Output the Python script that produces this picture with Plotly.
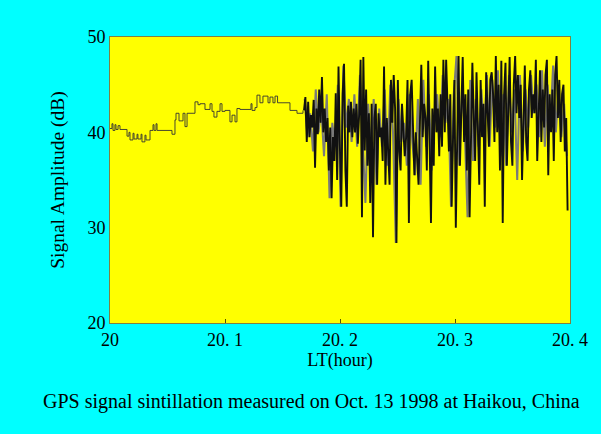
import plotly.graph_objects as go

# quiet part before the scintillation starts (LT hour, dB), step-like record
quiet_t = [20.0000, 20.0017, 20.0026, 20.0043, 20.0052, 20.0070, 20.0087, 20.0148,
           20.0165, 20.0174, 20.0200, 20.0209, 20.0235, 20.0243, 20.0270, 20.0278,
           20.0304, 20.0313, 20.0348, 20.0374, 20.0383, 20.0400, 20.0409, 20.0522,
           20.0539, 20.0565, 20.0574, 20.0600, 20.0635, 20.0652, 20.0670, 20.0722,
           20.0739, 20.0765, 20.0783, 20.0826, 20.0870, 20.0887, 20.0904, 20.0930,
           20.0957, 20.0974, 20.1000, 20.1043, 20.1061, 20.1087, 20.1104, 20.1130,
           20.1200, 20.1226, 20.1235, 20.1261, 20.1278, 20.1304, 20.1330, 20.1374,
           20.1391, 20.1417, 20.1435, 20.1457, 20.1504, 20.1548, 20.1565, 20.1626,
           20.1678]
quiet_v = [40.4, 40.9, 40.2, 40.8, 40.3, 40.7, 40.3, 39.6,
           40.0, 39.2, 39.9, 39.3, 39.8, 39.3, 39.8, 39.0,
           39.7, 39.2, 40.2, 40.8, 40.2, 40.9, 40.2, 40.2,
           39.8, 41.3, 42.0, 41.2, 42.0, 40.6, 42.0, 42.0,
           43.2, 42.9, 43.0, 42.4, 43.0, 42.2, 41.6, 42.2,
           43.0, 42.2, 42.3, 41.1, 41.8, 41.1, 42.5, 42.4,
           42.4, 43.0, 42.3, 42.6, 43.9, 43.1, 43.8, 43.1,
           43.7, 43.1, 43.8, 43.1, 43.1, 43.1, 42.3, 42.0,
           42.3]

# scintillation part, one sample every SCINT_DT hours from SCINT_T0
SCINT_T0 = 20.1687
SCINT_DT = 0.0012
scint_v = [
    42.3, 43.7, 39.0, 43.2, 39.5, 41.8, 40.5, 43.4, 36.3, 42.5, 39.8, 44.5,
    41.0, 45.8, 40.0, 42.5, 39.0, 41.5, 36.0, 40.5, 33.1, 39.5, 37.0, 44.1,
    35.0, 46.9, 38.5, 32.2, 44.0, 47.2, 36.0, 32.2, 42.8, 40.0, 43.2, 39.5,
    42.5, 40.0, 43.0, 38.8, 42.0, 47.6, 31.1, 47.9, 38.1, 44.5, 36.5, 42.0,
    32.6, 43.0, 29.0, 41.5, 43.0, 34.5, 42.0, 39.5, 40.5, 37.0, 46.9, 34.5,
    41.5, 37.0, 34.5, 45.5, 41.0, 46.0, 42.5, 28.4, 45.5, 38.0, 36.0, 43.0,
    40.0, 37.5, 39.5, 45.5, 30.5, 44.0, 45.5, 40.0, 35.5, 40.0, 37.5, 34.5,
    41.0, 47.1, 39.5, 43.0, 41.5, 36.0, 47.5, 38.0, 30.5, 42.5, 36.5, 46.9,
    40.0, 42.5, 37.5, 44.0, 38.5, 47.6, 40.0, 47.6, 42.5, 38.0, 44.0, 32.2,
    39.5, 45.5, 30.0, 42.0, 48.0, 36.5, 43.5, 47.9, 39.0, 44.0, 36.0, 44.5,
    31.1, 41.0, 47.3, 41.5, 37.0, 46.3, 39.0, 34.5, 45.5, 39.5, 43.0, 32.2,
    46.3, 42.5, 38.5, 45.5, 46.3, 44.0, 39.0, 48.0, 40.0, 45.0, 36.0, 47.5,
    30.5, 44.0, 47.3, 36.5, 43.0, 47.9, 39.0, 36.5, 45.0, 48.0, 42.0, 46.0,
    41.5, 45.0, 35.0, 42.0, 47.0, 39.0, 37.0, 44.5, 46.5, 41.5, 44.0, 42.0,
    47.6, 37.0, 43.5, 46.5, 39.0, 44.5, 40.5, 46.0, 47.6, 35.5, 44.0, 40.0,
    44.5, 37.0, 46.0, 48.0, 41.5, 45.5, 39.0, 44.0, 45.0, 38.0, 41.5, 31.8,
]
scint_t = [SCINT_T0 + i * SCINT_DT for i in range(len(scint_v))]

# second (grey) channel, half the sampling rate
GREY_T0 = 20.1693
GREY_DT = 0.0024
grey_v = [
    43.5, 39.5, 42.0, 38.0, 44.5, 40.0, 42.5, 37.5, 44.0, 33.1, 41.0, 38.5,
    45.0, 32.2, 47.0, 40.5, 43.5, 39.0, 44.0, 38.5, 46.0, 39.5, 32.6, 43.0,
    38.0, 43.5, 34.5, 42.5, 38.5, 44.5, 36.5, 45.0, 40.0, 28.4, 43.5, 39.0,
    41.0, 36.5, 44.0, 39.0, 35.5, 43.5, 34.5, 45.5, 38.5, 44.0, 36.0, 42.0,
    44.0, 39.5, 46.0, 41.0, 43.5, 32.2, 44.0, 48.0, 36.5, 45.0, 40.0, 31.1,
    45.5, 37.0, 43.5, 38.5, 44.5, 40.0, 46.0, 38.5, 45.5, 40.5, 46.5, 37.5,
    44.0, 36.5, 46.0, 40.0, 44.5, 35.0, 46.0, 38.0, 44.5, 40.5, 46.0, 42.0,
    45.0, 39.5, 46.5, 38.5, 45.0, 41.0, 47.0, 40.0, 44.5, 39.5, 43.0, 37.5,
]
grey_t = [GREY_T0 + i * GREY_DT for i in range(len(grey_v))]

x_tickvals = [20.0, 20.1, 20.2, 20.3, 20.4]
x_ticktext = ["20", "20. 1", "20. 2", "20. 3", "20. 4"]
y_tickvals = [20, 30, 40, 50]

serif = "Liberation Serif, Times New Roman, serif"

fig = go.Figure()
fig.add_trace(
    go.Scatter(
        x=quiet_t,
        y=quiet_v,
        mode="lines",
        line={"color": "#333333", "width": 0.9, "shape": "hv"},
        showlegend=False,
    )
)
fig.add_trace(
    go.Scatter(
        x=grey_t,
        y=grey_v,
        mode="lines",
        line={"color": "#7a7a7a", "width": 2},
        showlegend=False,
    )
)
fig.add_trace(
    go.Scatter(
        x=scint_t,
        y=scint_v,
        mode="lines",
        line={"color": "#111111", "width": 1.9},
        showlegend=False,
    )
)

fig.update_layout(
    width=601,
    height=434,
    margin={"l": 110, "r": 31, "t": 37, "b": 111},
    paper_bgcolor="#00FFFF",
    plot_bgcolor="#FFFF00",
    font={"family": serif, "color": "black"},
    annotations=[
        {
            "text": "GPS signal sintillation measured on Oct. 13 1998 at Haikou, China",
            "xref": "paper",
            "yref": "paper",
            "x": 0.437,
            "y": -0.275,
            "xanchor": "center",
            "yanchor": "middle",
            "showarrow": False,
            "font": {"size": 20, "family": serif},
        }
    ],
)
fig.update_xaxes(
    range=[20.0, 20.4],
    tickvals=x_tickvals,
    ticktext=x_ticktext,
    ticks="inside",
    ticklen=4,
    tickcolor="#555500",
    tickfont={"size": 18},
    showgrid=False,
    zeroline=False,
    showline=True,
    mirror=True,
    linecolor="#808040",
    linewidth=1,
    title={"text": "LT(hour)", "font": {"size": 18}, "standoff": 3},
)
fig.update_yaxes(
    range=[20, 50],
    tickvals=y_tickvals,
    ticks="",
    tickfont={"size": 18},
    showgrid=False,
    zeroline=False,
    showline=True,
    mirror=True,
    linecolor="#808040",
    linewidth=1,
    title={"text": "Signal Amplitude (dB)", "font": {"size": 19.5}, "standoff": 17},
)

fig.write_html(
    "out.html",
    config={"displayModeBar": False},
    post_script="document.body.style.margin='0';document.body.style.background='#00FFFF';",
)
